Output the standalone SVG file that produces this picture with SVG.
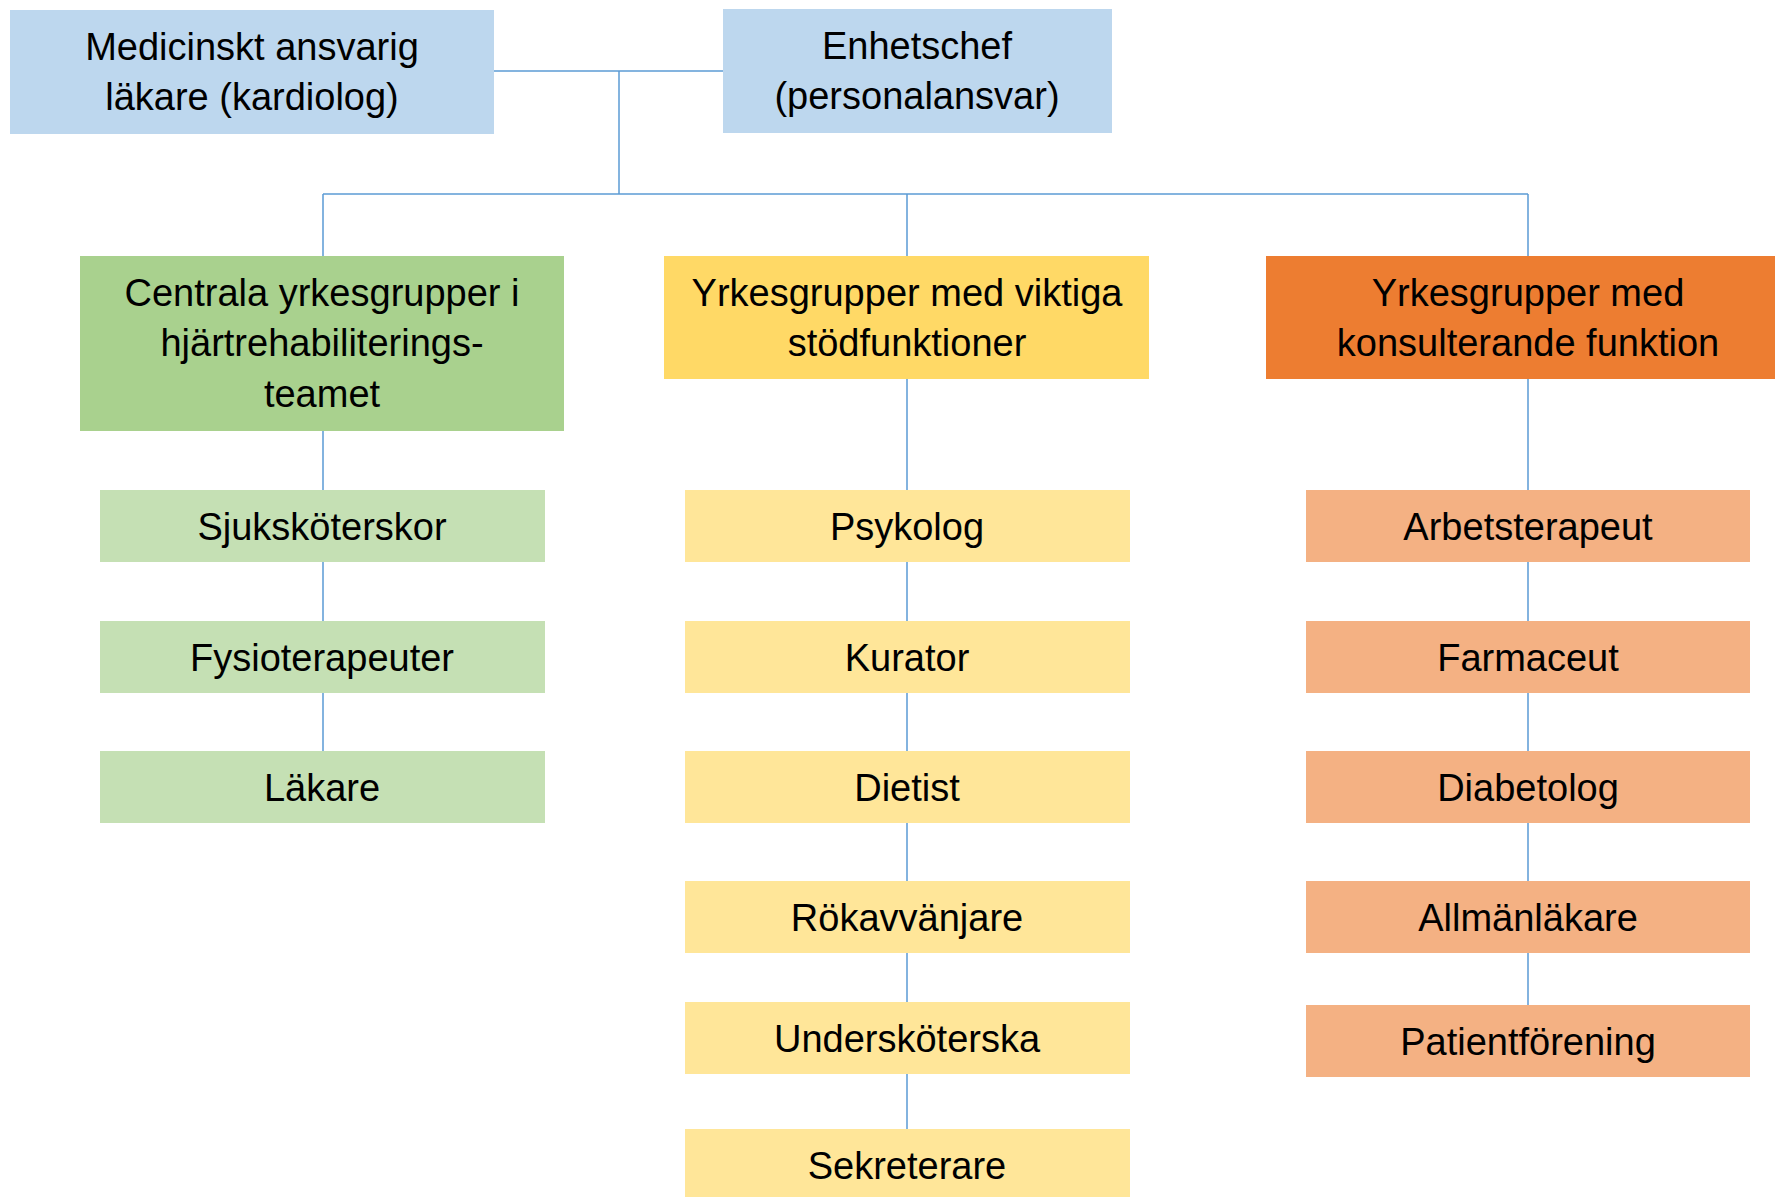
<svg xmlns="http://www.w3.org/2000/svg" width="1775" height="1197" viewBox="0 0 1775 1197">
<style>
text{font-family:"Liberation Sans",Arial,sans-serif;font-size:38px;fill:#000;text-anchor:middle}
.ln{stroke:#5B9BD5;stroke-width:1.5;fill:none}
.blue{fill:#BDD7EE}
.gh{fill:#A9D18E}.gs{fill:#C5E0B4}
.yh{fill:#FFD966}.ys{fill:#FFE699}
.oh{fill:#ED7D31}.os{fill:#F4B183}
</style>
<rect width="1775" height="1197" fill="#fff"/>
<g id="connectors">
<path class="ln" d="M494,71 H723"/>
<path class="ln" d="M619,71 V194"/>
<path class="ln" d="M323,194 H1528"/>
<path class="ln" d="M323,194 V256 M907,194 V256 M1528,194 V256"/>
<path class="ln" d="M323,431 V490 M323,562 V621 M323,693 V751"/>
<path class="ln" d="M907,379 V490 M907,562 V621 M907,693 V751 M907,823 V881 M907,953 V1002 M907,1074 V1129"/>
<path class="ln" d="M1528,379 V490 M1528,562 V621 M1528,693 V751 M1528,823 V881 M1528,953 V1005"/>
</g>
<g id="n-medicinskt"><rect class="blue" x="10" y="10" width="484" height="124"/><text x="252" y="60">Medicinskt ansvarig</text><text x="252" y="110">läkare (kardiolog)</text></g>
<g id="n-enhetschef"><rect class="blue" x="723" y="9" width="389" height="124"/><text x="917" y="59">Enhetschef</text><text x="917" y="109">(personalansvar)</text></g>
<g id="n-centrala"><rect class="gh" x="80" y="256" width="484" height="175"/><text x="322" y="306">Centrala yrkesgrupper i</text><text x="322" y="356">hjärtrehabiliterings-</text><text x="322" y="407">teamet</text></g>
<g id="n-stod"><rect class="yh" x="664" y="256" width="485" height="123"/><text x="907" y="306">Yrkesgrupper med viktiga</text><text x="907" y="356">stödfunktioner</text></g>
<g id="n-konsult"><rect class="oh" x="1266" y="256" width="520" height="123"/><text x="1528" y="306">Yrkesgrupper med</text><text x="1528" y="356">konsulterande funktion</text></g>
<g id="n-sjukskoterskor"><rect class="gs" x="100" y="490" width="445" height="72"/><text x="322" y="540">Sjuksköterskor</text></g>
<g id="n-fysioterapeuter"><rect class="gs" x="100" y="621" width="445" height="72"/><text x="322" y="671">Fysioterapeuter</text></g>
<g id="n-lakare"><rect class="gs" x="100" y="751" width="445" height="72"/><text x="322" y="801">Läkare</text></g>
<g id="n-psykolog"><rect class="ys" x="685" y="490" width="445" height="72"/><text x="907" y="540">Psykolog</text></g>
<g id="n-kurator"><rect class="ys" x="685" y="621" width="445" height="72"/><text x="907" y="671">Kurator</text></g>
<g id="n-dietist"><rect class="ys" x="685" y="751" width="445" height="72"/><text x="907" y="801">Dietist</text></g>
<g id="n-rokavvanjare"><rect class="ys" x="685" y="881" width="445" height="72"/><text x="907" y="931">Rökavvänjare</text></g>
<g id="n-underskoterska"><rect class="ys" x="685" y="1002" width="445" height="72"/><text x="907" y="1052">Undersköterska</text></g>
<g id="n-sekreterare"><rect class="ys" x="685" y="1129" width="445" height="72"/><text x="907" y="1179">Sekreterare</text></g>
<g id="n-arbetsterapeut"><rect class="os" x="1306" y="490" width="444" height="72"/><text x="1528" y="540">Arbetsterapeut</text></g>
<g id="n-farmaceut"><rect class="os" x="1306" y="621" width="444" height="72"/><text x="1528" y="671">Farmaceut</text></g>
<g id="n-diabetolog"><rect class="os" x="1306" y="751" width="444" height="72"/><text x="1528" y="801">Diabetolog</text></g>
<g id="n-allmanlakare"><rect class="os" x="1306" y="881" width="444" height="72"/><text x="1528" y="931">Allmänläkare</text></g>
<g id="n-patientforening"><rect class="os" x="1306" y="1005" width="444" height="72"/><text x="1528" y="1055">Patientförening</text></g>
</svg>
